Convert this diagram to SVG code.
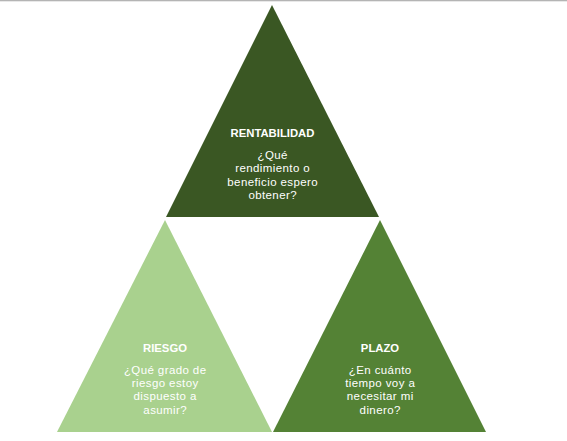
<svg xmlns="http://www.w3.org/2000/svg" width="567" height="441" viewBox="0 0 567 441">
<style>
.t{font-family:"Liberation Sans",Arial,sans-serif;font-size:11.3px;font-weight:bold;fill:#ffffff;text-anchor:middle}
.b{font-family:"Liberation Sans",Arial,sans-serif;font-size:11.5px;letter-spacing:0.4px;fill:#ffffff;text-anchor:middle}
</style>
<rect x="0" y="0" width="567" height="441" fill="#ffffff"/>
<rect x="0" y="0" width="567" height="1.3" fill="#b4b4b4"/>
<g id="rentabilidad">
<polygon points="272,5 166,217 379,217" fill="#3a5723"/>
<text class="t" x="272.5" y="137">RENTABILIDAD</text>
<text class="b"><tspan x="272.7" y="159">¿Qué</tspan><tspan x="272.7" y="172.4">rendimiento o</tspan><tspan x="272.7" y="185.8">beneficio espero</tspan><tspan x="272.7" y="199.2">obtener?</tspan></text>
</g>
<g id="riesgo">
<polygon points="165,220 57,432 272,432" fill="#a9d18e"/>
<text class="t" x="165" y="352">RIESGO</text>
<text class="b"><tspan x="165.2" y="373.5">¿Qué grado de</tspan><tspan x="165.2" y="386.9">riesgo estoy</tspan><tspan x="165.2" y="400.3">dispuesto a</tspan><tspan x="165.2" y="413.7">asumir?</tspan></text>
</g>
<g id="plazo">
<polygon points="380,220 273,432 486,432" fill="#548235"/>
<text class="t" x="380" y="352">PLAZO</text>
<text class="b"><tspan x="380.2" y="373.5">¿En cuánto</tspan><tspan x="380.2" y="386.9">tiempo voy a</tspan><tspan x="380.2" y="400.3">necesitar mi</tspan><tspan x="380.2" y="413.7">dinero?</tspan></text>
</g>
<g id="connectors"></g>
</svg>
